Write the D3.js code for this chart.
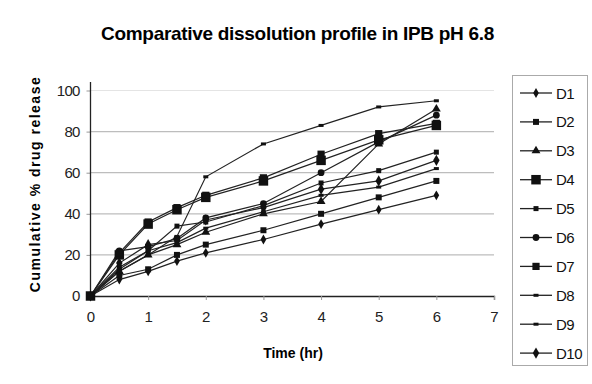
<!DOCTYPE html>
<html><head><meta charset="utf-8">
<script src="https://cdn.jsdelivr.net/npm/d3@7"></script>
<style>body{margin:0;background:#fff}svg{display:block}text{font-family:"Liberation Sans",Arial,sans-serif}</style>
</head><body><svg id="c" width="592" height="384"></svg>
<script>
const times = [0, 0.5, 1, 1.5, 2, 3, 4, 5, 6];
const seriesNames = ["D1","D2","D3","D4","D5","D6","D7","D8","D9","D10"];
const D1  = [0, 8, 12, 17, 21, 27.5, 35, 42, 49];
const D2  = [0, 10, 13, 20, 25, 32, 40, 48, 56];
const D3  = [0, 12, 20, 25, 31, 40, 46, 74, 91];
const D4  = [0, 20, 35, 42, 48, 56, 66, 76, 83];
const D5  = [0, 14, 22, 34, 36, 44, 55, 61, 70];
const D6  = [0, 22, 24, 28, 38, 45, 60, 75, 88];
const D7  = [0, 21, 36, 43, 49, 57.5, 69, 79, 84];
const D8  = [0, 12, 20, 29, 58, 74, 83, 92, 95];
const D9  = [0, 13, 22, 26, 33, 41, 49, 53, 62];
const D10 = [0, 16, 25, 27, 37, 43, 52, 56, 66];
const seriesValues = [D1,D2,D3,D4,D5,D6,D7,D8,D9,D10];
const xTicks = [0,1,2,3,4,5,6,7];
const yTicks = [0,20,40,60,80,100];
const markers = [
  {t:"diamond", s:28},{t:"square", s:36},{t:"triangle", s:34},{t:"square", s:90},
  {t:"square", s:25},{t:"circle", s:36},{t:"square", s:52},{t:"dash"},{t:"dash"},{t:"diamond", s:36}
];

const svg = d3.select("#c");
const x = d3.scaleLinear().domain([0,7]).range([90.5,494]);
const y = d3.scaleLinear().domain([0,100]).range([296,90.5]);

// title
svg.append("text").attr("x",297.5).attr("y",40).attr("text-anchor","middle")
  .attr("font-size",19).attr("font-weight","bold").attr("letter-spacing","-0.3")
  .text("Comparative dissolution profile in IPB pH 6.8");

// gridlines
svg.append("g").selectAll("line").data(yTicks.filter(d=>d>0)).join("line")
  .attr("x1",x(0)).attr("x2",x(7)).attr("y1",d=>y(d)).attr("y2",d=>y(d))
  .attr("stroke",d=>d===100?"#e4e4e4":"#bdbdbd").attr("stroke-width",1.2);

// y axis
const ya = svg.append("g").attr("transform",`translate(${x(0)},0)`)
  .call(d3.axisLeft(y).tickValues(yTicks).tickSize(4).tickPadding(7));
ya.select(".domain").remove();
ya.selectAll(".tick line").attr("stroke","#999");
ya.selectAll("text").attr("font-size",15).attr("fill","#222").attr("letter-spacing","-0.8");
svg.append("line").attr("x1",x(0)).attr("x2",x(0)).attr("y1",82).attr("y2",y(0)).attr("stroke","#222").attr("stroke-width",1.3);

// x axis
const xa = svg.append("g").attr("transform",`translate(0,${y(0)})`)
  .call(d3.axisBottom(x).tickValues(xTicks).tickFormat(d3.format("d")).tickSize(4).tickPadding(11));
xa.select(".domain").attr("stroke","#222").attr("stroke-width",1.3);
xa.selectAll(".tick line").attr("stroke","#999");
xa.selectAll("text").attr("font-size",15).attr("fill","#222");

// axis titles
svg.append("text").attr("x",293).attr("y",358).attr("text-anchor","middle")
  .attr("font-size",14).attr("font-weight","bold").text("Time (hr)");
svg.append("text").attr("transform","translate(40,184) rotate(-90)").attr("text-anchor","middle")
  .attr("font-size",14).attr("font-weight","bold").attr("letter-spacing","1.5").text("Cumulative % drug release");

const sym = {diamond:d3.symbolDiamond, square:d3.symbolSquare, triangle:d3.symbolTriangle, circle:d3.symbolCircle};
function drawMarker(g, m, cx, cy){
  if(m.t==="dash"){
    g.append("rect").attr("x",cx-2.5).attr("y",cy-1.5).attr("width",5).attr("height",3).attr("fill","#111");
  } else {
    g.append("path").attr("d",d3.symbol().type(sym[m.t]).size(m.s)()).attr("transform",`translate(${cx},${cy})`).attr("fill","#111");
  }
}

const line = d3.line().x((d,i)=>x(times[i])).y(d=>y(d));
const plot = svg.append("g");
seriesValues.forEach((vals,k)=>{
  plot.append("path").datum(vals).attr("d",line).attr("fill","none").attr("stroke","#222").attr("stroke-width",1.2);
});
seriesValues.forEach((vals,k)=>{
  const g = plot.append("g");
  vals.forEach((v,i)=>drawMarker(g, markers[k], x(times[i]), y(v)));
});

// legend
const lg = svg.append("g");
lg.append("rect").attr("x",512.5).attr("y",75.5).attr("width",75).attr("height",290).attr("fill","#fff").attr("stroke","#aaa");
seriesNames.forEach((n,k)=>{
  const cy = 93 + k*28.9;
  lg.append("line").attr("x1",520).attr("x2",552).attr("y1",cy).attr("y2",cy).attr("stroke","#222").attr("stroke-width",1.3);
  drawMarker(lg, markers[k], 536, cy);
  lg.append("text").attr("x",556).attr("y",cy+5.5).attr("font-size",15).attr("fill","#111").attr("letter-spacing","-0.5").text(n);
});
</script></body></html>
